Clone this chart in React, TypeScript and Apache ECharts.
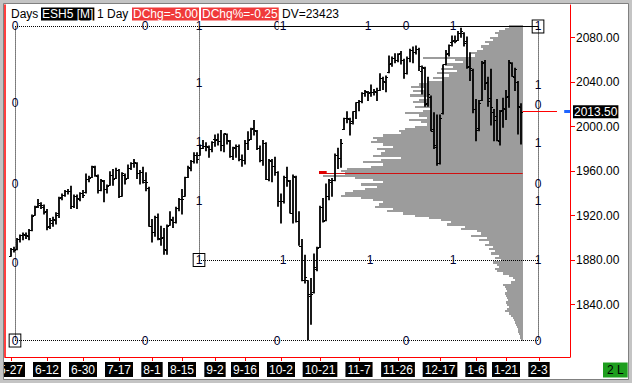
import React, { useEffect, useRef } from 'react';
import * as echarts from 'echarts';

// ---------- data ----------
const opens = [
  1884,1890,1890,1899,1903,1903,1902,1907,1921,1929,
  1930,1928,1924,1911,1913,1916,1922,1937,1939,1942,
  1942,1929,1938,1935,1940,1941,1953,1955,1964,1956,
  1943,1951,1944,1948,1957,1954,1961,1938,1957,1954,
  1963,1967,1967,1958,1959,1952,1945,1911,1905,1919,
  1899,1901,1889,1912,1916,1914,1927,1935,1938,1955,
  1963,1969,1975,1975,1981,1983,1982,1980,1989,1989,
  1987,1984,1993,1987,1974,1981,1983,1971,1970,1985,
  1989,1999,1996,1981,1970,1985,1953,1969,1965,1959,
  1933,1933,1955,1951,1922,1955,1915,1893,1862,1862,
  1848,1851,1872,1892,1928,1916,1938,1950,1952,1975,
  1972,1998,2008,2007,2005,2014,2022,2023,2030,2031,
  2031,2031,2031,2033,2044,2040,2049,2057,2062,2060,
  2066,2060,2048,2062,2069,2067,2070,2050,2053,2021,
  2027,1998,1982,1967,2012,2056,2066,2076,2078,2078,
  2084,2084,2077,2055,2051,2016,1999,2024,2058,2040,
  2026,2013,2010,1987,2015,2016,2028,2057,2045,2040,
  2018,
];
const highs = [
  1891,1892,1900,1903,1905,1905,1908,1921,1929,1935,
  1932,1930,1926,1918,1919,1923,1937,1940,1943,1944,
  1947,1939,1939,1941,1943,1958,1956,1965,1965,1957,
  1953,1952,1948,1960,1962,1963,1962,1959,1958,1966,
  1968,1971,1968,1961,1964,1959,1946,1917,1920,1922,
  1911,1909,1912,1924,1919,1928,1936,1944,1955,1965,
  1970,1977,1977,1984,1988,1986,1983,1987,1993,1994,
  1997,1994,1994,1988,1982,1984,1984,1975,1988,1996,
  1999,2006,1997,1983,1988,1986,1971,1971,1973,1960,
  1940,1956,1964,1952,1957,1956,1924,1899,1885,1862,
  1864,1886,1892,1929,1936,1949,1953,1954,1976,1981,
  1989,2008,2014,2008,2014,2022,2024,2031,2033,2032,
  2038,2034,2035,2048,2045,2046,2064,2063,2066,2066,
  2068,2061,2063,2070,2072,2073,2071,2055,2054,2045,
  2028,2013,2011,2011,2056,2069,2074,2082,2082,2086,
  2089,2085,2081,2067,2052,2025,2024,2059,2060,2045,
  2052,2016,2025,2015,2026,2033,2060,2058,2053,2041,
  2021,
];
const lows = [
  1883,1887,1889,1896,1898,1899,1898,1906,1920,1927,
  1926,1921,1907,1908,1910,1912,1918,1934,1937,1939,
  1926,1927,1926,1933,1936,1940,1950,1954,1955,1940,
  1942,1932,1940,1947,1947,1953,1936,1937,1948,1953,
  1961,1963,1953,1948,1949,1942,1910,1896,1901,1898,
  1893,1885,1885,1911,1909,1913,1924,1921,1937,1954,
  1960,1967,1967,1974,1980,1978,1972,1977,1982,1983,
  1978,1977,1984,1972,1970,1972,1969,1964,1966,1979,
  1988,1992,1979,1968,1965,1952,1951,1950,1956,1928,
  1913,1931,1946,1922,1913,1914,1893,1861,1859,1808,
  1822,1850,1870,1891,1914,1915,1934,1937,1951,1962,
  1963,1997,2003,1992,2002,2007,2014,2021,2027,2023,
  2027,2028,2023,2032,2033,2031,2048,2054,2057,2058,
  2056,2043,2047,2058,2057,2065,2050,2029,2018,2018,
  1996,1980,1965,1966,2011,2055,2063,2072,2075,2077,
  2080,2072,2052,2041,2012,1987,1996,2023,2033,2018,
  2001,1987,1987,1983,1999,2006,2017,2045,2032,1993,
  1984,
];
const closes = [
  1890,1889,1899,1903,1904,1903,1907,1920,1928,1931,
  1930,1923,1910,1916,1917,1921,1936,1939,1942,1942,
  1929,1938,1936,1940,1939,1953,1954,1965,1957,1943,
  1952,1944,1947,1957,1953,1961,1938,1958,1953,1963,
  1967,1968,1958,1959,1950,1950,1911,1905,1919,1900,
  1900,1890,1911,1917,1914,1927,1935,1935,1955,1964,
  1969,1975,1971,1981,1983,1983,1980,1986,1988,1987,
  1984,1994,1988,1974,1982,1983,1971,1970,1985,1988,
  1998,1997,1981,1970,1985,1953,1970,1965,1959,1933,
  1933,1955,1952,1922,1956,1915,1893,1862,1865,1850,
  1850,1874,1891,1928,1915,1938,1952,1952,1975,1972,
  1985,2008,2008,2003,2014,2022,2023,2030,2032,2030,
  2031,2032,2033,2044,2041,2045,2056,2062,2060,2065,
  2060,2048,2062,2069,2067,2070,2055,2054,2020,2029,
  1996,1984,1967,2008,2056,2065,2073,2077,2077,2084,
  2086,2075,2054,2053,2016,1997,2021,2057,2039,2023,
  2018,2006,1988,2014,2017,2027,2058,2046,2052,2018.5,
  2013.5,
];

const firstBarDate = [2014, 4, 27]; // 2014-05-27 (month zero-based)
const holidays = ['2014-07-04', '2014-09-01', '2014-11-27', '2014-12-25', '2015-01-01', '2015-01-19'];
const tickLabels = ['5-27', '6-12', '6-30', '7-17', '8-1', '8-15', '9-2', '9-16', '10-2', '10-21', '11-7', '11-26', '12-17', '1-6', '1-21', '2-3'];
const priceTicks = [1840, 1880, 1920, 1960, 2000, 2040, 2080];

// volume profile, 2-point rows from 2090 down to 1808
const profileTop = 2090;
const profileStep = 2;
const profileVolumes = [
  14,18,24,28,25,33,30,38,34,42,
  40,46,52,48,100,68,60,76,70,82,
  66,86,74,90,80,96,104,112,98,110,
  100,113,94,104,110,98,108,92,100,118,
  104,96,114,102,96,108,118,124,122,140,
  150,146,152,140,130,146,138,142,150,122,
  142,160,140,152,176,182,178,200,168,150,
  140,162,146,158,170,178,182,162,150,140,
  144,148,130,136,120,108,94,82,72,76,
  58,62,46,42,52,36,44,34,38,30,
  34,28,32,24,28,22,30,26,24,28,
  26,20,14,10,8,12,20,18,17,16,
  18,17,16,15,17,16,14,16,18,14,
  12,10,9,8,7,6,5,5,4,3,
  3,2,
];
const pocPrice = 1958.4;
const lastPrice = 2013.5;

// time/price box drawing (bar index, price)
const boxHigh = 2090.1;
const boxMid = 1880.2;
const boxLow = 1807.8;
const boxX0 = 1.33;
const boxX1 = 62.67;
const boxX2 = 175.67;
const plainMarks: [string, number, number][] = [
  ['0', 1.33, 2090.1], ['0', 44.67, 2090.1], ['1', 62.67, 2090.1], ['0', 88.67, 2090.1], ['1', 90.67, 2090.1],
  ['1', 119, 2090.1], ['0', 131.67, 2090.1], ['1', 147.33, 2090.1],
  ['0', 1.33, 2021.3], ['0', 1.33, 1948.9], ['0', 1.33, 1877.5],
  ['1', 62.67, 2039.3], ['1', 62.67, 1986.2], ['1', 62.67, 1933.2],
  ['1', 175.67, 2037.5], ['0', 175.67, 2019.5], ['1', 175.67, 1985.3], ['0', 175.67, 1948.9],
  ['1', 175.67, 1933.2], ['1', 175.67, 1880.2], ['0', 175.67, 1807.8],
  ['1', 90.67, 1880.2], ['1', 119.67, 1880.2], ['1', 147.33, 1880.2],
  ['0', 44.67, 1807.8], ['0', 88.67, 1807.8], ['0', 131.67, 1807.8],
];
const boxedMarks: [string, number, number][] = [
  ['1', 175.67, 2090.1], ['0', 1.33, 1807.8], ['1', 62.67, 1880.2],
];

// ---------- helpers ----------
function buildSlotNames(barCount: number, total: number): string[] {
  const names: string[] = [];
  const d = new Date(Date.UTC(firstBarDate[0], firstBarDate[1], firstBarDate[2]));
  while (names.length < total) {
    const dow = d.getUTCDay();
    const iso = d.toISOString().slice(0, 10);
    const trading = dow !== 0 && dow !== 6 && holidays.indexOf(iso) < 0;
    if (names.length >= barCount || trading) {
      names.push(`${d.getUTCMonth() + 1}-${d.getUTCDate()}`);
    }
    d.setUTCDate(d.getUTCDate() + 1);
  }
  return names;
}

const FONT = '"Liberation Sans", Arial, sans-serif';
const RED = '#ff0000';

export default function App() {
  const ref = useRef<HTMLDivElement>(null);

  useEffect(() => {
    if (!ref.current) return;
    const chart = echarts.init(ref.current, null, { renderer: 'svg' });

    const barCount = closes.length;
    const slotNames = buildSlotNames(barCount, 200);
    const tickIdx = tickLabels.map((l) => slotNames.indexOf(l));
    const xMin = -2;
    const xMax = 186.33;
    const yMin = 1793;
    const yMax = 2109.4;

    const bars = closes.map((c, i) => [i, opens[i], highs[i], lows[i], c]);
    const profile = profileVolumes.map((v, k) => [v, profileTop - k * profileStep]);

    const markLabelStyle = {
      show: true,
      position: 'inside',
      fontSize: 12,
      fontFamily: FONT,
      color: '#000030',
      opacity: 1,
      textBorderWidth: 0,
      textBorderColor: 'transparent',
      backgroundColor: '#ffffff',
      padding: [0, 1, 0, 1],
    };

    const dotted = { color: '#000', width: 1, type: [1, 1] as any, opacity: 1 };
    const solid = { color: '#000', width: 1, type: 'solid', opacity: 1 };

    const option: any = {
      animation: false,
      grid: [
        { left: 5, right: 62, top: 5, bottom: 26, outerBoundsMode: 'none', containLabel: false },
        { left: 5, right: 109.3, top: 5, bottom: 26, outerBoundsMode: 'none', containLabel: false },
      ],
      xAxis: [
        {
          type: 'value',
          gridIndex: 0,
          min: xMin,
          max: xMax,
          position: 'bottom',
          splitLine: { show: false },
          axisLine: { show: true, onZero: false, lineStyle: { color: RED, width: 1 } },
          axisTick: { show: true, customValues: tickIdx, length: 4, lineStyle: { color: RED } },
          axisLabel: {
            customValues: tickIdx,
            formatter: (v: number) => slotNames[Math.round(v)] || '',
            color: '#ffffff',
            backgroundColor: '#000000',
            padding: [2, 2, 1, 2],
            fontSize: 12,
            fontFamily: FONT,
            margin: 5,
          },
        },
        {
          type: 'value',
          gridIndex: 1,
          min: 0,
          max: 517.7,
          inverse: true,
          show: false,
        },
      ],
      yAxis: [
        {
          type: 'value',
          gridIndex: 0,
          position: 'right',
          min: yMin,
          max: yMax,
          splitLine: { show: false },
          axisLine: { show: true, onZero: false, lineStyle: { color: RED, width: 1 } },
          axisTick: { show: true, customValues: priceTicks, length: 5, lineStyle: { color: RED } },
          axisLabel: {
            customValues: priceTicks,
            formatter: (v: number) => v.toFixed(2),
            color: '#000',
            fontSize: 12,
            fontFamily: FONT,
            margin: 6,
          },
        },
        {
          type: 'value',
          gridIndex: 0,
          position: 'left',
          min: yMin,
          max: yMax,
          splitLine: { show: false },
          axisLine: { show: true, onZero: false, lineStyle: { color: RED, width: 1.5 } },
          axisTick: { show: false },
          axisLabel: { show: false },
        },
        {
          type: 'value',
          gridIndex: 1,
          min: yMin,
          max: yMax,
          show: false,
        },
      ],
      series: [
        {
          type: 'custom',
          name: 'profile',
          xAxisIndex: 1,
          yAxisIndex: 2,
          z: 2,
          data: profile,
          encode: { x: 0, y: 1 },
          renderItem: (params: any, api: any) => {
            const v = api.value(0);
            const p = api.value(1);
            const a = api.coord([v, p + profileStep / 2]);
            const b = api.coord([0, p - profileStep / 2]);
            const x0 = Math.round(a[0]);
            const y0 = Math.round(a[1]);
            const y1 = Math.round(b[1]);
            return {
              type: 'rect',
              shape: { x: x0, y: y0, width: Math.round(b[0]) - x0, height: Math.max(1, y1 - y0) },
              style: { fill: '#9c9c9c' },
            };
          },
          markLine: {
            symbol: ['none', 'none'],
            silent: true,
            label: { show: false },
            data: [
              [
                { coord: [203.7, pocPrice], lineStyle: { color: '#d01010', width: 1, type: 'solid' } },
                { coord: [0, pocPrice] },
              ],
              [
                { coord: [203.7, pocPrice + 1], lineStyle: { color: '#e00000', width: 3, type: 'solid' } },
                { coord: [196, pocPrice + 1] },
              ],
            ],
          },
        },
        {
          type: 'scatter',
          name: 'marks',
          xAxisIndex: 0,
          yAxisIndex: 0,
          z: 4,
          symbolSize: 1,
          itemStyle: { color: '#ffffff', opacity: 1 },
          data: [
            ...plainMarks.map((m) => ({
              value: [m[1], m[2]],
              label: { ...markLabelStyle, formatter: m[0] },
            })),
            ...boxedMarks.map((m) => ({
              value: [m[1], m[2]],
              label: { ...markLabelStyle, formatter: m[0], borderColor: '#000', borderWidth: 1, padding: [0, 2, 0, 2] },
            })),
          ],
          markLine: {
            symbol: ['none', 'none'],
            silent: true,
            label: { show: false },
            data: [
              [{ coord: [boxX0, boxHigh], lineStyle: dotted }, { coord: [boxX1, boxHigh] }],
              [{ coord: [boxX1, boxHigh], lineStyle: solid }, { coord: [boxX2, boxHigh] }],
              [{ coord: [boxX0, boxHigh], lineStyle: dotted }, { coord: [boxX0, boxLow] }],
              [{ coord: [boxX1, boxHigh], lineStyle: dotted }, { coord: [boxX1, boxMid] }],
              [{ coord: [boxX2, boxHigh], lineStyle: dotted }, { coord: [boxX2, boxLow] }],
              [{ coord: [boxX1, boxMid], lineStyle: dotted }, { coord: [boxX2, boxMid] }],
              [{ coord: [boxX0, boxLow], lineStyle: dotted }, { coord: [boxX2, boxLow] }],
            ],
          },
        },
        {
          type: 'custom',
          name: 'ESH5',
          xAxisIndex: 0,
          yAxisIndex: 0,
          z: 5,
          data: bars,
          encode: { x: 0, y: [1, 2, 3, 4] },
          renderItem: (params: any, api: any) => {
            const i = api.value(0);
            const ph = api.coord([i, api.value(2)]);
            const pl = api.coord([i, api.value(3)]);
            const po = api.coord([i, api.value(1)]);
            const pc = api.coord([i, api.value(4)]);
            const x = Math.round(ph[0]);
            return {
              type: 'group',
              children: [
                { type: 'line', shape: { x1: x, y1: ph[1], x2: x, y2: pl[1] }, style: { stroke: '#000', lineWidth: 1.8 } },
                { type: 'line', shape: { x1: x - 2, y1: Math.round(po[1]) + 0.5, x2: x, y2: Math.round(po[1]) + 0.5 }, style: { stroke: '#000', lineWidth: 1 } },
                { type: 'line', shape: { x1: x, y1: Math.round(pc[1]) + 0.5, x2: x + 2, y2: Math.round(pc[1]) + 0.5 }, style: { stroke: '#000', lineWidth: 1 } },
              ],
            };
          },
          markLine: {
            symbol: ['none', 'none'],
            silent: true,
            data: [
              [
                { coord: [170.5, lastPrice], lineStyle: { color: RED, width: 1, type: 'solid' }, label: { show: false } },
                { coord: [182, lastPrice] },
              ],
              [
                {
                  coord: [184.4, lastPrice],
                  lineStyle: { color: '#1e64ff', width: 3, type: 'solid' },
                  label: {
                    show: true,
                    position: 'end',
                    formatter: lastPrice.toFixed(2),
                    color: '#fff',
                    backgroundColor: '#000',
                    padding: [1, 1, 0, 1],
                    fontSize: 12,
                    fontFamily: FONT,
                    distance: 3,
                  },
                },
                { coord: [xMax, lastPrice] },
              ],
            ],
          },
        },
      ],
      graphic: [
        { type: 'text', z: 50, style: { text: 'Days', x: 11, y: 14, verticalAlign: 'middle', fill: '#000', font: `12px ${FONT}` } },
        { type: 'text', z: 50, style: { text: 'ESH5 [M]', x: 41, y: 14, verticalAlign: 'middle', fill: '#fff', backgroundColor: '#000', padding: [1, 1, 0, 1], font: `12px ${FONT}` } },
        { type: 'text', z: 50, style: { text: '1 Day', x: 97, y: 14, verticalAlign: 'middle', fill: '#000', font: `12px ${FONT}` } },
        { type: 'text', z: 50, style: { text: 'DChg=-5.00', x: 132, y: 14, verticalAlign: 'middle', fill: '#fff', backgroundColor: '#f03a3a', padding: [1, 1, 0, 1], font: `12px ${FONT}` } },
        { type: 'text', z: 50, style: { text: 'DChg%=-0.25', x: 201, y: 14, verticalAlign: 'middle', fill: '#fff', backgroundColor: '#f03a3a', padding: [1, 1, 0, 1], font: `12px ${FONT}` } },
        { type: 'text', z: 50, style: { text: 'DV=23423', x: 282, y: 14, verticalAlign: 'middle', fill: '#000', font: `12px ${FONT}` } },
        { type: 'text', z: 50, style: { text: '2 L', x: 603, y: 370, verticalAlign: 'middle', fill: '#000', backgroundColor: '#1e9e1e', padding: [2, 4, 1, 4], font: `12px ${FONT}` } },
        { type: 'rect', z: 60, silent: true, shape: { x: 0, y: 0, width: 632, height: 383 }, style: { fill: 'none', stroke: '#c4c4c4', lineWidth: 8 } },
        { type: 'rect', z: 61, silent: true, shape: { x: 3.5, y: 3.5, width: 625, height: 376 }, style: { fill: 'none', stroke: '#808080', lineWidth: 1 } },
      ],
    };

    chart.setOption(option);
    return () => chart.dispose();
  }, []);

  return (
    <div
      ref={ref}
      style={{ position: 'absolute', left: 0, top: 0, width: 632, height: 383, background: '#ffffff' }}
    />
  );
}
